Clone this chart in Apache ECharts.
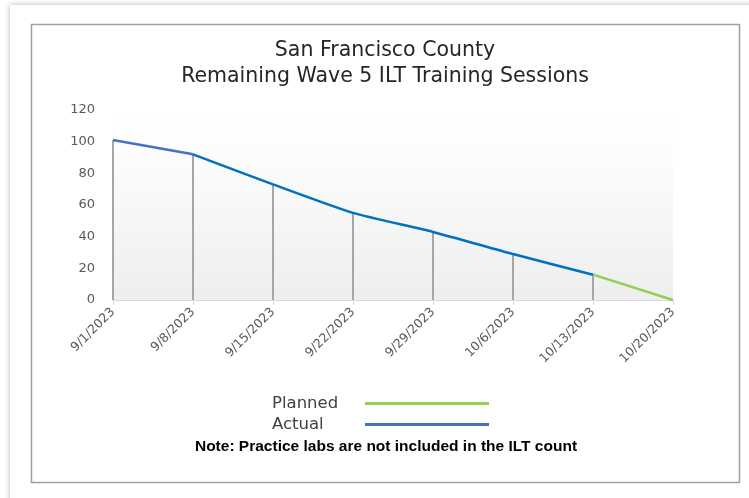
<!DOCTYPE html>
<html>
<head>
<meta charset="utf-8">
<script src="https://cdn.jsdelivr.net/npm/echarts@6/dist/echarts.min.js"></script>
<style>
  html, body { margin: 0; padding: 0; background: #ffffff; width: 749px; height: 498px; overflow: hidden; }
  #card { position: absolute; left: 10px; top: 5px; width: 800px; height: 560px; background: #fff; box-shadow: 0 0 6px rgba(0,0,0,0.28); }
  #chart { position: absolute; left: 0; top: 0; width: 749px; height: 498px; }
</style>
</head>
<body>
<div id="card"></div>
<div id="chart"></div>
<script>
const categories = ['9/1/2023', '9/8/2023', '9/15/2023', '9/22/2023', '9/29/2023', '10/6/2023', '10/13/2023', '10/20/2023'];
const plannedValues = [null, null, null, null, null, null, 16, 0];
const actualValues = [101, 92, null, null, null, null, null, null];
const remainingValues = [null, 92, 73, 55, 43, 29, 16, null];
const dropValues = [101, 92, 73, 55, 43, 29, 16, 0];
const yTicks = [0, 20, 40, 60, 80, 100, 120];

const FONT = 'DejaVu Sans';
const chart = echarts.init(document.getElementById('chart'), null, { renderer: 'canvas' });
chart.setOption({
  backgroundColor: 'transparent',
  animation: false,
  title: [
    {
      text: 'San Francisco County\nRemaining Wave 5 ILT Training Sessions',
      left: 380, top: 33, textAlign: 'center',
      textStyle: { fontFamily: FONT, fontSize: 20.5, fontWeight: 'normal', color: '#262626', lineHeight: 26 }
    },
    {
      text: 'Note: Practice labs are not included in the ILT count',
      left: 381, top: 434, textAlign: 'center',
      textStyle: { fontFamily: 'Liberation Sans', fontSize: 15.5, fontWeight: 'bold', color: '#000000' }
    }
  ],
  legend: {
    orient: 'vertical',
    left: 267, top: 390,
    align: 'right',
    itemGap: 4,
    itemWidth: 124,
    itemHeight: 16,
    data: [
      { name: 'Planned', icon: 'path://M0,0 L124,0 L124,3 L0,3 Z' },
      { name: 'Actual', icon: 'path://M0,0 L124,0 L124,3 L0,3 Z' }
    ],
    formatter: function (name) { return '{t|' + name + '}'; },
    textStyle: {
      fontFamily: FONT, fontSize: 16.5, color: '#404040',
      rich: { t: { width: 88, align: 'left', fontFamily: FONT, fontSize: 16.5, color: '#404040' } }
    }
  },
  graphic: [
    { type: 'rect', silent: true, shape: { x: 31.5, y: 24.5, width: 708, height: 458 },
      style: { fill: 'none', stroke: '#a0a0a0', lineWidth: 1.5 } }
  ],
  grid: {
    left: 113, right: 76, top: 110, bottom: 198,
    show: true, borderWidth: 0,
    backgroundColor: new echarts.graphic.LinearGradient(0, 0, 0, 1, [
      { offset: 0, color: '#ffffff' },
      { offset: 0.2, color: '#fdfdfd' },
      { offset: 1, color: '#eeeeee' }
    ])
  },
  xAxis: {
    type: 'category',
    data: categories,
    boundaryGap: false,
    axisLine: { lineStyle: { color: '#d9d9d9', width: 1 } },
    axisTick: { show: true, length: 5, lineStyle: { color: '#d9d9d9' } },
    axisLabel: { rotate: 45, margin: 10, fontFamily: FONT, fontSize: 12.5, color: '#595959' },
    splitLine: { show: false }
  },
  yAxis: {
    type: 'value',
    min: 0, max: 120, interval: 20,
    axisLine: { show: false },
    axisTick: { show: false },
    splitLine: { show: false },
    axisLabel: { margin: 18, fontFamily: FONT, fontSize: 13, color: '#595959',
      formatter: function (v) { return yTicks.indexOf(v) >= 0 ? String(v) : ''; } }
  },
  series: [
    {
      name: 'Drop', type: 'bar', data: dropValues, barWidth: 2,
      itemStyle: { color: '#a6a6a6' }, silent: true, z: 1
    },
    {
      name: 'Planned', type: 'line', data: plannedValues, symbol: 'none',
      lineStyle: { color: '#92d050', width: 2.5 }, itemStyle: { color: '#92d050' }, z: 3
    },
    {
      name: 'Actual', type: 'line', data: actualValues, symbol: 'none', smooth: 0.2,
      lineStyle: { color: '#4472c4', width: 2.5 }, itemStyle: { color: '#4472c4' }, z: 3
    },
    {
      name: 'Remaining', type: 'line', data: remainingValues, symbol: 'none', smooth: 0.2,
      lineStyle: { color: '#0070c0', width: 2.5 }, itemStyle: { color: '#0070c0' }, z: 4
    }
  ]
});
</script>
</body>
</html>
